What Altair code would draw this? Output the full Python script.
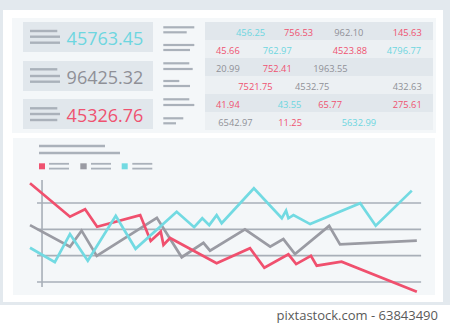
import altair as alt
import pandas as pd

# ---------------- data ----------------
big_values = ["45763.45", "96425.32", "45326.76"]
big_colors = ["cyan", "gray", "red"]

table_text = [
    ["456.25", "756.53", "962.10", "145.63"],
    ["45.66", "762.97", "4523.88", "4796.77"],
    ["20.99", "752.41", "1963.55"],
    ["7521.75", "4532.75", "432.63"],
    ["41.94", "43.55", "65.77", "275.61"],
    ["6542.97", "11.25", "5632.99"],
]
table_color = [
    ["cyan", "red", "gray", "red"],
    ["red", "cyan", "red", "cyan"],
    ["gray", "red", "gray"],
    ["red", "gray", "gray"],
    ["red", "cyan", "red", "red"],
    ["gray", "red", "cyan"],
]

red_t = [0, 10.3, 14.2, 17.3, 28.4, 31.1, 33.7, 34.4, 36.1, 48.1, 56.7, 60.4, 66.6, 68.6, 72.4, 73.9, 80.3, 99.7]
red_v = [37.5, 24.8, 27.6, 21.0, 25.4, 15.6, 19.1, 14.1, 16.7, 7.1, 12.8, 5.4, 10.5, 6.8, 9.9, 6.2, 7.7, -3.7]
gray_t = [0, 10.3, 13.3, 17.2, 32.7, 39.1, 44.7, 46.4, 55.4, 61.9, 65.3, 68.3, 77.1, 79.9, 99.7]
gray_v = [21.6, 13.4, 19.5, 9.9, 24.4, 9.4, 14.9, 11.9, 20.0, 13.4, 16.3, 10.6, 21.3, 14.3, 15.7]
cyan_t = [0, 6.4, 10.3, 14.9, 22.1, 27.2, 37.8, 42.3, 44.4, 46.2, 48.1, 49.4, 57.7, 64.9, 66.0, 66.6, 67.9, 72.2, 85.1, 89.1, 98.4]
cyan_v = [13.0, 7.5, 18.2, 8.1, 25.1, 12.6, 26.7, 20.8, 24.2, 21.6, 25.4, 22.3, 35.6, 24.2, 27.1, 24.2, 25.4, 22.0, 29.9, 21.4, 34.7]
grid_values = [0, 10, 20, 30]

footer = "pixtastock.com - 63843490"

# ---------------- style / layout ----------------
PALETTE = {"red": "#ef5270", "gray": "#8f9097", "cyan": "#6dd6e0"}
LINE_PALETTE = {"red": "#f0506e", "gray": "#9a9ba3", "cyan": "#72dae2"}
BAR = "#aab1ba"
GRID = "#a8afb8"
DARK = "#e1e7ec"
LIGHT = "#ecf0f3"
PANEL = "#f4f7f9"

# left x of each table text (pixel layout)
table_x = [
    [236, 284, 334.3, 392.7],
    [216, 262.7, 332.7, 386.7],
    [216, 262.7, 313.3],
    [238.3, 295, 392.7],
    [216, 277.7, 318.3, 392.7],
    [218.3, 278.3, 341.7],
]

rects = [
    (0, 0, 450, 305, "#e3e9ee"),
    (3, 10, 443, 302, "#ffffff"),
    (12, 18, 436, 133, PANEL),
    (13, 138, 435, 295, PANEL),
    (23, 22, 153, 52, DARK),
    (23, 61, 153, 91, DARK),
    (23, 99, 153, 129, DARK),
]
for i in range(6):
    rects.append((205, 22 + 18 * i, 433, 40 + 18 * i, DARK if i % 2 == 0 else LIGHT))

bar_lines = []  # (x, x2, ycenter, thickness)
for yc, ends in [((31, 36.7, 42.7), (57.3, 60, 60)),
                 ((69.3, 76, 81.7), (57.3, 60, 60)),
                 ((108.3, 114, 120), (57.3, 60, 57.3))]:
    for y, e in zip(yc, ends):
        bar_lines.append((30, e, y, 2.4))
mid = [(27.3, 194.3), (32.3, 186.7), (45, 194.3), (50, 190), (63.3, 189.3), (69, 192.7),
       (81, 179.3), (86, 190), (99.3, 189.3), (105, 194.3), (118.3, 183.3), (123.3, 176)]
for y, e in mid:
    bar_lines.append((163.3, e, y, 2.2))
bar_lines += [(39, 105, 146, 2.4), (39, 120, 153, 2.4)]
for x0 in (49, 91, 132.3):
    bar_lines.append((x0, x0 + 20, 163.8, 1.8))
    bar_lines.append((x0, x0 + 20, 168.6, 1.8))
for x0, x1, y, t in bar_lines:
    rects.append((x0, y - t / 2, x1, y + t / 2, BAR))
rects += [
    (39, 163.3, 45, 169.3, PALETTE["red"]),
    (80.3, 163.3, 86.7, 169.3, "#9a9ba3"),
    (121.7, 163.3, 127.7, 169.3, LINE_PALETTE["cyan"]),
]

rect_df = pd.DataFrame(rects, columns=["x", "y", "x2", "y2", "fill"])
rect_df["k"] = range(len(rect_df))

rect_layer = alt.Chart(rect_df).mark_rect().encode(
    x=alt.X("x:Q", scale=None),
    x2="x2:Q",
    y=alt.Y("y:Q", scale=None),
    y2="y2:Q",
    color=alt.Color("fill:N", scale=None),
    order=alt.Order("k:Q"),
)

# big numbers
big_df = pd.DataFrame({"row": [0, 1, 2], "val": big_values, "c": [PALETTE[c] for c in big_colors]})
big_layer = alt.Chart(big_df).mark_text(
    font="Open Sans", fontSize=18, align="center", baseline="alphabetic"
).encode(
    x=alt.value(105),
    y=alt.Y("row:Q", scale=alt.Scale(domain=[0, 2], range=[45, 122.3], nice=False, zero=False), axis=None),
    text="val:N",
    color=alt.Color("c:N", scale=None),
)

# table numbers
trows = []
for r, (texts, cols, xs) in enumerate(zip(table_text, table_color, table_x)):
    for t, c, x in zip(texts, cols, xs):
        trows.append({"row": r, "val": t, "c": PALETTE[c], "px": x})
tab_df = pd.DataFrame(trows)
tab_layer = alt.Chart(tab_df).mark_text(
    font="Open Sans", fontSize=9.3, align="left", baseline="alphabetic"
).encode(
    x=alt.X("px:Q", scale=None),
    y=alt.Y("row:Q", scale=alt.Scale(domain=[0, 5], range=[36, 126], nice=False, zero=False), axis=None),
    text="val:N",
    color=alt.Color("c:N", scale=None),
)

# line chart (own scales placed in the lower panel)
xs = alt.Scale(domain=[0, 100], range=[30, 418], nice=False, zero=False)
ys = alt.Scale(domain=[0, 30], range=[282, 203], nice=False, zero=False)

grid_df = pd.DataFrame({"v": grid_values, "t0": 1.8, "t1": 100.8})
grid_layer = alt.Chart(grid_df).mark_rule(color=GRID, strokeWidth=1.6).encode(
    x=alt.X("t0:Q", scale=xs, axis=None), x2="t1:Q",
    y=alt.Y("v:Q", scale=ys, axis=None),
)
axis_df = pd.DataFrame({"t": [3.1], "v0": [-1.9], "v1": [38.7]})
axis_layer = alt.Chart(axis_df).mark_rule(color=GRID, strokeWidth=1.6).encode(
    x=alt.X("t:Q", scale=xs, axis=None),
    y=alt.Y("v0:Q", scale=ys, axis=None), y2="v1:Q",
)

def line(ts, vs, key):
    df = pd.DataFrame({"t": ts, "v": vs})
    return alt.Chart(df).mark_line(color=LINE_PALETTE[key], strokeWidth=2.7, strokeJoin="miter").encode(
        x=alt.X("t:Q", scale=xs, axis=None),
        y=alt.Y("v:Q", scale=ys, axis=None),
    )

chart_part = alt.layer(grid_layer, axis_layer, line(gray_t, gray_v, "gray"),
                       line(red_t, red_v, "red"), line(cyan_t, cyan_v, "cyan"))

foot_df = pd.DataFrame({"val": [footer]})
foot_layer = alt.Chart(foot_df).mark_text(
    font="Open Sans", fontSize=13, align="right", baseline="alphabetic", color="#5a5a5a"
).encode(x=alt.value(438), y=alt.value(319.5), text="val:N")

chart = alt.layer(rect_layer, big_layer, tab_layer, chart_part, foot_layer).resolve_scale(
    x="independent", y="independent", color="independent"
).properties(
    width=450, height=324, padding=0, autosize="none", background="#ffffff"
).configure_view(stroke=None)

chart.save("out.html", embed_options={"renderer": "svg", "actions": False})
